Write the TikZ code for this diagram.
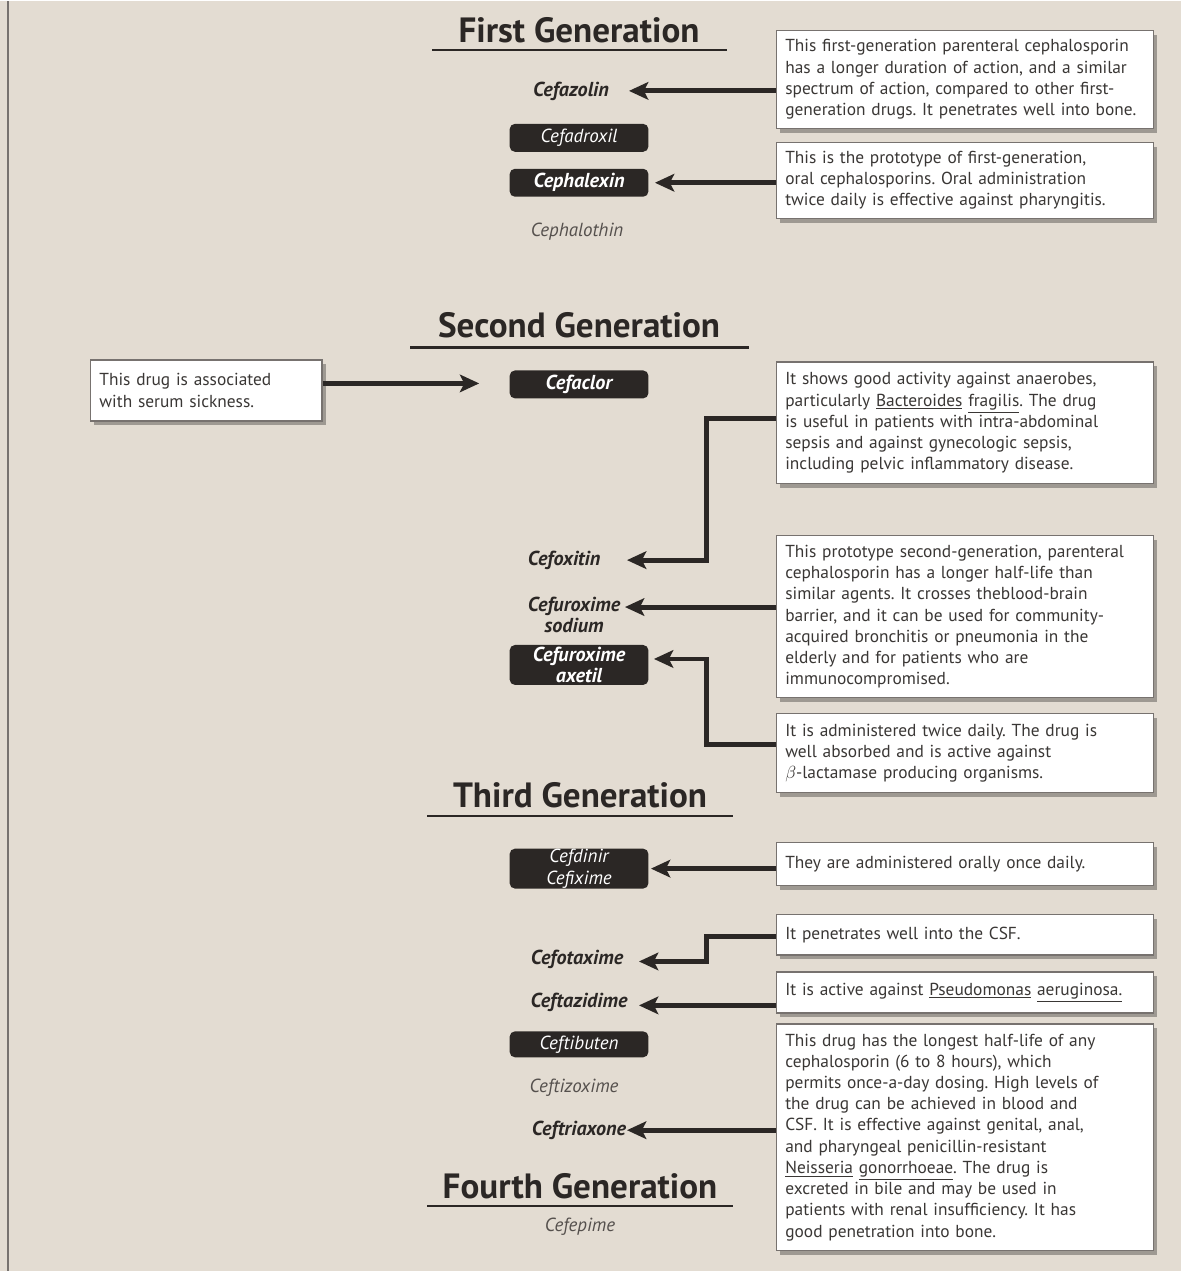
\documentclass[tikz,border=0pt]{standalone}
\usepackage{fontspec}
\setmainfont{PT Sans}
\frenchspacing
\usetikzlibrary{arrows.meta,shadows}
\definecolor{paper}{HTML}{E3DCD2}
\definecolor{ink}{HTML}{2B2725}
\definecolor{rim}{HTML}{77726F}
\definecolor{prose}{HTML}{3A3735}
\definecolor{faint}{HTML}{55504D}
\begin{document}
\begin{tikzpicture}[x=0.02cm,y=-0.02cm,
  note/.style={draw=rim,line width=0.7pt,fill=white,anchor=north west,align=left,
    text width=7.2cm,inner xsep=0.18cm,inner ysep=0pt,text=prose,
    font=\fontsize{9.9}{12.1}\selectfont,
    drop shadow={shadow xshift=2pt,shadow yshift=-2.5pt,opacity=0.3,fill=black}},
  head/.style={font=\fontsize{20}{24}\selectfont\bfseries,text=ink},
  rule/.style={ink,line width=1.2pt},
  drug/.style={font=\fontsize{11.5}{9.8}\selectfont\bfseries\itshape,text=ink,align=center},
  pill/.style={fill=ink,text=white,rounded corners=3pt,minimum width=2.78cm,
    minimum height=0.56cm,inner sep=0pt,align=center},
  thin/.style={font=\fontsize{10.8}{12.5}\selectfont\itshape,align=center},
  plain/.style={thin,text=faint},
  arr/.style={ink,line width=2.8pt,-{Stealth[length=11pt,width=10pt,inset=2.5pt]}}]
\fill[paper] (0,0) rectangle (1183,1272);
\draw[rim,line width=1.2pt] (8,0) -- (8,1272);

\node[head] (h1) at (580,29) {First Generation};
\draw[rule] (433,49) -- (728,49);
\node[head] (h2) at (580,325) {Second Generation};
\draw[rule] (411,347) -- (750,347);
\node[head] (h3) at (581,795) {Third Generation};
\draw[rule] (428,816) -- (734,816);
\node[head] (h4) at (581,1187) {Fourth Generation};
\draw[rule] (428,1207) -- (734,1207);

\node[drug] (cefazolin) at (572,90) {Cefazolin};
\node[thin,pill] (cefadroxil) at (580,137) {Cefadroxil};
\node[drug,pill] (cephalexin) at (580,182) {Cephalexin};
\node[plain] (cephalothin) at (578,231) {Cephalothin};
\node[drug,pill] (cefaclor) at (580,384) {Cefaclor};
\node[drug] (cefoxitin) at (565,560) {Cefoxitin};
\node[drug] (sodium) at (575,615) {Cefuroxime\\sodium};
\node[drug,pill,minimum height=0.8cm] (axetil) at (580,665) {Cefuroxime\\axetil};
\node[thin,pill,minimum height=0.8cm] (cefdinir) at (580,869) {Cefdinir\\Cefixime};
\node[drug] (cefotaxime) at (578,960) {Cefotaxime};
\node[drug] (ceftazidime) at (580,1003) {Ceftazidime};
\node[thin,pill,minimum height=0.52cm] (ceftibuten) at (580,1045) {Ceftibuten};
\node[plain] (ceftizoxime) at (575,1088) {Ceftizoxime};
\node[drug] (ceftriaxone) at (580,1131) {Ceftriaxone};
\node[plain] (cefepime) at (581,1228) {Cefepime};

\node[note,minimum height=1.96cm] (n1) at (777,29) {This first-generation parenteral cephalosporin\\has a longer duration of action, and a similar\\spectrum of action, compared to other first-\\generation drugs. It penetrates well into bone.};
\node[note,minimum height=1.52cm] (n2) at (777,141) {This is the prototype of first-generation,\\oral cephalosporins. Oral administration\\twice daily is effective against pharyngitis.};
\node[note,minimum height=1.22cm,text width=4.28cm] (n3) at (90,359) {This drug is associated\\with serum sickness.};
\node[note,minimum height=2.44cm] (n4) at (777,361) {It shows good activity against anaerobes,\\particularly \underline{Bacteroides} \underline{fragilis}. The drug\\is useful in patients with intra-abdominal\\sepsis and against gynecologic sepsis,\\including pelvic inflammatory disease.};
\node[note,minimum height=3.24cm] (n5) at (777,535) {This prototype second-generation, parenteral\\cephalosporin has a longer half-life than\\similar agents. It crosses theblood-brain\\barrier, and it can be used for community-\\acquired bronchitis or pneumonia in the\\elderly and for patients who are\\immunocompromised.};
\node[note,minimum height=1.58cm] (n6) at (777,713) {It is administered twice daily. The drug is\\well absorbed and is active against\\$\beta$-lactamase producing organisms.};
\node[note,minimum height=0.86cm] (n7) at (777,842) {They are administered orally once daily.};
\node[note,minimum height=0.82cm] (n8) at (777,914) {It penetrates well into the CSF.};
\node[note,minimum height=0.82cm] (n9) at (777,972) {It is active against \underline{Pseudomonas} \underline{aeruginosa.}};
\node[note,minimum height=4.54cm] (n10) at (777,1024) {This drug has the longest half-life of any\\cephalosporin (6 to 8 hours), which\\permits once-a-day dosing. High levels of\\the drug can be achieved in blood and\\CSF. It is effective against genital, anal,\\and pharyngeal penicillin-resistant\\\underline{Neisseria} \underline{gonorrhoeae}. The drug is\\excreted in bile and may be used in\\patients with renal insufficiency. It has\\good penetration into bone.};

\coordinate (tA) at (630,90);
\coordinate (tB) at (656,182);
\coordinate (tC) at (480,383);
\coordinate (tD) at (628,560);
\coordinate (tE) at (626,607);
\coordinate (tF) at (655,659);
\coordinate (tG) at (652,869);
\coordinate (tH) at (640,962);
\coordinate (tI) at (640,1006);
\coordinate (tJ) at (628,1131);
\coordinate (kD) at (708,418);
\coordinate (kF) at (708,745);
\coordinate (kH) at (708,937);

\draw[arr] (n1.west |- tA) -- (tA);
\draw[arr] (n2.west |- tB) -- (tB);
\draw[arr] (n3.east |- tC) -- (tC);
\draw[arr] (n4.west |- kD) -- (kD) |- (tD);
\draw[arr] (n5.west |- tE) -- (tE);
\draw[arr] (n6.west |- kF) -- (kF) |- (tF);
\draw[arr] (n7.west |- tG) -- (tG);
\draw[arr] (n8.west |- kH) -- (kH) |- (tH);
\draw[arr] (n9.west |- tI) -- (tI);
\draw[arr] (n10.west |- tJ) -- (tJ);
\end{tikzpicture}
\end{document}
